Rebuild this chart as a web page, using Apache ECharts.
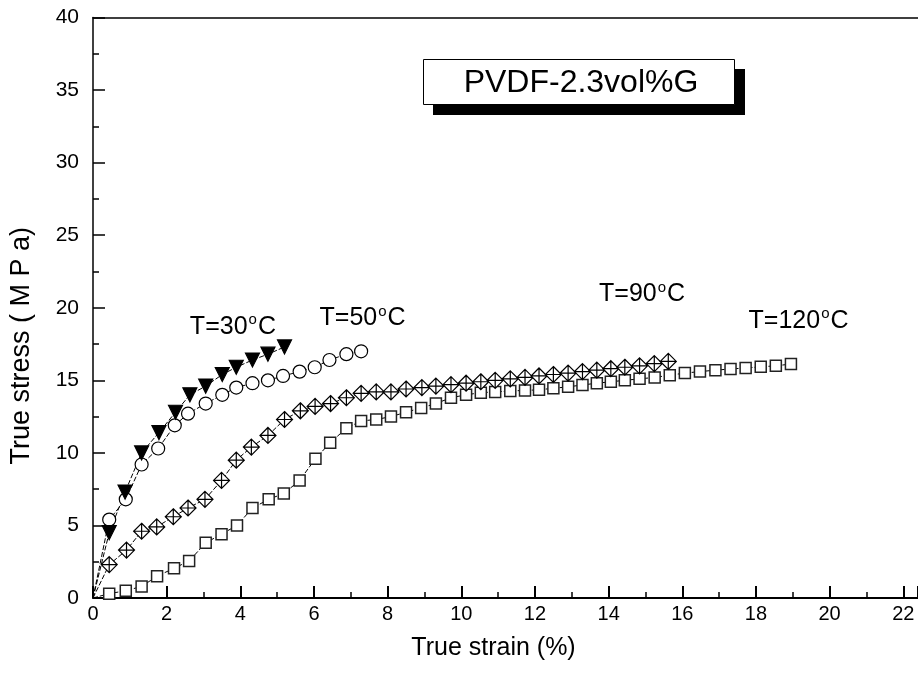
<!DOCTYPE html>
<html>
<head>
<meta charset="utf-8">
<script src="https://cdn.jsdelivr.net/npm/echarts@6/dist/echarts.min.js"></script>
<style>
  html, body { margin: 0; padding: 0; background: #fff; }
  #chart { width: 918px; height: 688px; }
</style>
</head>
<body>
<div id="chart"></div>
<script>
// 数据
const strain30 = [0, 0.44, 0.87, 1.32, 1.79, 2.24, 2.63, 3.06, 3.51, 3.89, 4.33, 4.75, 5.2];
const stress30 = [0, 4.5, 7.3, 10.0, 11.4, 12.8, 14.0, 14.6, 15.4, 15.9, 16.4, 16.8, 17.3];

const strain50 = [0, 0.44, 0.89, 1.32, 1.77, 2.22, 2.58, 3.06, 3.51, 3.89, 4.33, 4.75, 5.16, 5.61, 6.02, 6.42, 6.88, 7.28];
const stress50 = [0, 5.4, 6.8, 9.2, 10.3, 11.9, 12.7, 13.4, 14.0, 14.5, 14.8, 15.0, 15.3, 15.6, 15.9, 16.4, 16.8, 17.0];

const strain90 = [0, 0.44, 0.91, 1.32, 1.73, 2.18, 2.58, 3.04, 3.49, 3.89, 4.3, 4.75, 5.2, 5.63, 6.03, 6.45, 6.88, 7.28, 7.69, 8.09,
  8.5, 8.93, 9.31, 9.72, 10.13, 10.53, 10.92, 11.33, 11.73, 12.11, 12.5, 12.9, 13.29, 13.68, 14.06, 14.44, 14.84, 15.24, 15.62];
const stress90 = [0, 2.3, 3.3, 4.6, 4.9, 5.6, 6.2, 6.8, 8.1, 9.5, 10.4, 11.2, 12.3, 12.9, 13.2, 13.4, 13.8, 14.1, 14.2, 14.2,
  14.4, 14.5, 14.6, 14.7, 14.8, 14.9, 15.0, 15.1, 15.2, 15.3, 15.4, 15.5, 15.6, 15.7, 15.8, 15.9, 16.0, 16.15, 16.3];

const strain120 = [0, 0.44, 0.89, 1.32, 1.74, 2.2, 2.61, 3.06, 3.49, 3.91, 4.33, 4.77, 5.18, 5.61, 6.04, 6.44, 6.88, 7.28, 7.69, 8.09,
  8.5, 8.91, 9.31, 9.72, 10.13, 10.53, 10.92, 11.33, 11.73, 12.11, 12.5, 12.9, 13.29, 13.68, 14.06, 14.44, 14.84,
  15.25, 15.66, 16.07, 16.48, 16.9, 17.31, 17.72, 18.13, 18.54, 18.95];
const stress120 = [0, 0.3, 0.5, 0.8, 1.5, 2.05, 2.55, 3.8, 4.4, 5.0, 6.2, 6.8, 7.2, 8.1, 9.6, 10.7, 11.7, 12.2, 12.3, 12.5,
  12.8, 13.1, 13.4, 13.8, 14.0, 14.15, 14.2, 14.27, 14.3, 14.35, 14.45, 14.55, 14.68, 14.8, 14.9, 15.0, 15.1,
  15.2, 15.35, 15.5, 15.6, 15.7, 15.78, 15.85, 15.93, 16.0, 16.12];

// 曲线标注: 文字和锚点 (数据坐标)
const tempLabels = ['T=30', 'T=50', 'T=90', 'T=120'];
const tempLabelAt = [[2.63, 18.7], [6.15, 19.3], [13.74, 20.95], [17.8, 19.1]];

const FONT = '"Liberation Sans", Arial, sans-serif';

// 带十字的菱形
const crossDiamond = 'path://M0,-1 L1,0 L0,1 L-1,0 Z M0,-1 L0,1 M-1,0 L1,0';

function pairs(xs, ys) {
  return xs.map((x, i) => {
    if (i === 0) return { value: [x, ys[i]], symbol: 'none' };
    return [x, ys[i]];
  });
}

function makeSeries(name, xs, ys, symbol, size, fill, extra) {
  return Object.assign({
    name: name,
    type: 'line',
    data: pairs(xs, ys),
    symbol: symbol,
    symbolSize: size,
    showAllSymbol: true,
    lineStyle: { color: '#000', width: 1, type: [5, 2] },
    itemStyle: { color: fill, borderColor: '#000', borderWidth: 1.2 },
    emphasis: { disabled: true },
    animation: false
  }, extra || {});
}

const chart = echarts.init(document.getElementById('chart'));

const option = {
  backgroundColor: '#fff',
  textStyle: { fontFamily: FONT },
  grid: { left: 93, top: 17.5, width: 826.6, height: 580.5 },
  xAxis: [
    {
      type: 'value',
      min: 0,
      max: 22.4,
      interval: 2,
      name: 'True strain (%)',
      nameLocation: 'middle',
      nameGap: 38,
      nameTextStyle: { fontSize: 25, color: '#000', fontFamily: FONT, padding: [0, 24, 0, 0] },
      axisLine: { lineStyle: { color: '#000', width: 2 } },
      axisTick: { inside: true, length: 12, lineStyle: { color: '#000', width: 2 } },
      minorTick: { show: true, splitNumber: 2, length: 6, lineStyle: { color: '#000', width: 1.5 } },
      axisLabel: { fontSize: 20, color: '#000', margin: 6, showMaxLabel: false, fontFamily: FONT },
      splitLine: { show: false }
    },
    {
      type: 'value',
      position: 'top',
      min: 0,
      max: 22.4,
      axisLine: { show: true, onZero: false, lineStyle: { color: '#000', width: 1.5 } },
      axisTick: { show: false },
      axisLabel: { show: false },
      splitLine: { show: false }
    }
  ],
  yAxis: {
    type: 'value',
    min: 0,
    max: 40,
    interval: 5,
    name: 'True stress ( M P a)',
    nameLocation: 'middle',
    nameGap: 58,
    nameTextStyle: { fontSize: 27, color: '#000', fontFamily: FONT, padding: [0, 76, 0, 0] },
    axisLine: { show: true, lineStyle: { color: '#000', width: 1.5 } },
    axisTick: { inside: true, length: 12, lineStyle: { color: '#000', width: 1.5 } },
    minorTick: { show: true, splitNumber: 2, length: 6, lineStyle: { color: '#000', width: 1.5 } },
    axisLabel: { fontSize: 21, color: '#000', margin: 14, fontFamily: FONT },
    splitLine: { show: false }
  },
  series: [
    makeSeries('120', strain120, stress120, 'rect', 11, '#fff', { itemStyle: { color: '#fff', borderColor: '#222', borderWidth: 1.5 } }),
    makeSeries('90', strain90, stress90, crossDiamond, 16, '#fff'),
    makeSeries('50', strain50, stress50, 'circle', 13, '#fff'),
    makeSeries('30', strain30, stress30, 'triangle', 14, '#000', { symbolRotate: 180 })
  ]
};

chart.setOption(option);

// 标注文字 + 样品名称框
const graphics = tempLabels.map((t, i) => {
  const p = chart.convertToPixel({ gridIndex: 0 }, tempLabelAt[i]);
  return {
    type: 'text',
    x: p[0],
    y: p[1],
    z: 10,
    style: {
      text: '{n|' + t + '}{s|o}{n|C}',
      verticalAlign: 'middle',
      align: 'left',
      rich: {
        n: { fontSize: 25, fontFamily: FONT, fill: '#000', lineHeight: 28 },
        s: { fontSize: 15, fontFamily: FONT, fill: '#000', verticalAlign: 'top', padding: [0, 1, 0, 1] }
      }
    }
  };
});

graphics.push(
  { type: 'rect', z: 10, shape: { x: 433, y: 69, width: 312, height: 46 }, style: { fill: '#000' } },
  { type: 'rect', z: 11, shape: { x: 423.5, y: 59.5, width: 311, height: 45 }, style: { fill: '#fff', stroke: '#000', lineWidth: 1 } },
  {
    type: 'text', z: 12, x: 581, y: 83,
    style: { text: 'PVDF-2.3vol%G', fontSize: 32, fontFamily: FONT, fill: '#000', align: 'center', verticalAlign: 'middle' }
  }
);

chart.setOption({ graphic: graphics });
</script>
</body>
</html>
